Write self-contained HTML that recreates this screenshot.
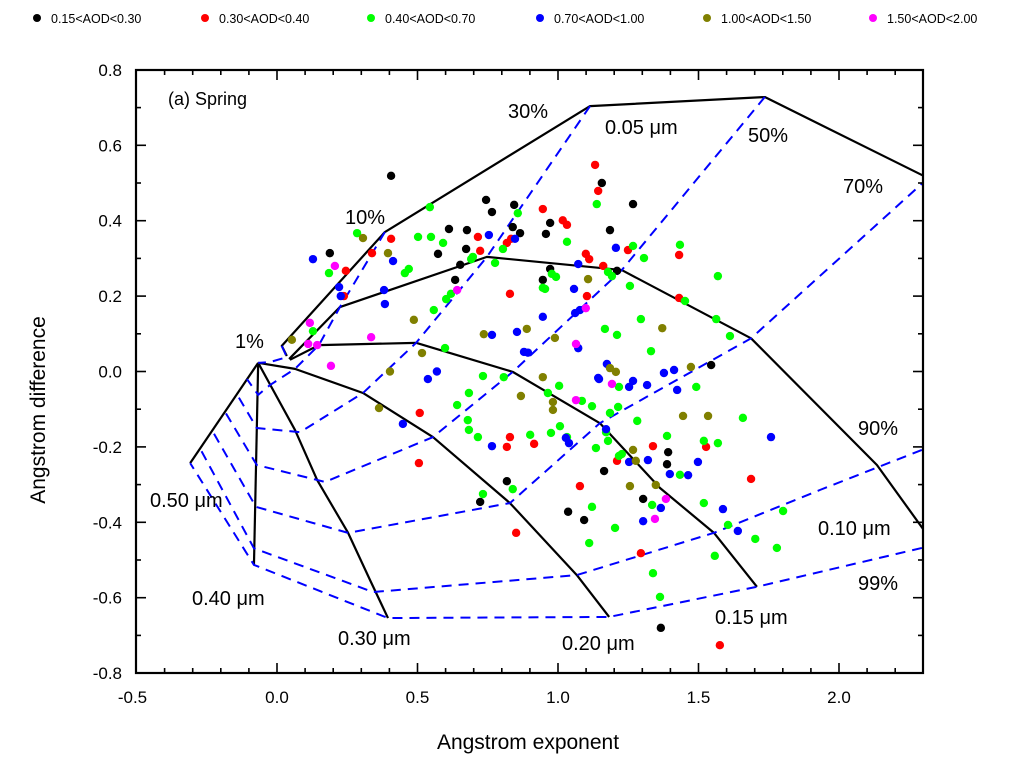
<!DOCTYPE html>
<html><head><meta charset="utf-8"><style>
html,body{margin:0;padding:0;background:#fff;}
svg{display:block;font-family:"Liberation Sans",Arial,sans-serif;}
</style></head><body>
<svg id="chart" width="1024" height="770" viewBox="0 0 1024 770" xmlns="http://www.w3.org/2000/svg">
<defs><clipPath id="plotclip"><rect x="136" y="70" width="787" height="603"/></clipPath></defs>
<g id="legend" font-size="12.5"></g>
<g id="grid" clip-path="url(#plotclip)"></g>
<g id="points"></g>
<g id="axes"></g>
<g id="labels" font-size="20"></g>
<text x="168" y="105" font-size="18">(a) Spring</text>
<text x="528" y="749" font-size="21" text-anchor="middle">Angstrom exponent</text>
<text transform="translate(45,410) rotate(-90)" font-size="21" text-anchor="middle">Angstrom difference</text>
</svg>
<script>
const categories = ["0.15<AOD<0.30","0.30<AOD<0.40","0.40<AOD<0.70","0.70<AOD<1.00","1.00<AOD<1.50","1.50<AOD<2.00"];
const colors = ["#000000","#ff0000","#00ff00","#0000ff","#808000","#ff00ff"];
const xTicks = [-0.5,0.0,0.5,1.0,1.5,2.0];
const xTickLabels = ["-0.5","0.0","0.5","1.0","1.5","2.0"];
const yTicks = [0.8,0.6,0.4,0.2,0.0,-0.2,-0.4,-0.6,-0.8];
const yTickLabels = ["0.8","0.6","0.4","0.2","0.0","-0.2","-0.4","-0.6","-0.8"];
const blackX = [0.406,0.188,0.744,0.765,0.839,0.844,0.612,0.676,0.865,0.573,0.673,0.652,0.634,0.972,0.957,0.972,0.946,1.156,1.267,1.185,1.210,1.545,1.392,1.388,1.164,1.303,1.366,0.818,0.723,1.036,1.093];
const blackY = [0.519,0.314,0.455,0.423,0.383,0.442,0.378,0.375,0.367,0.312,0.325,0.283,0.243,0.394,0.365,0.272,0.243,0.500,0.444,0.375,0.267,0.017,-0.214,-0.246,-0.264,-0.338,-0.680,-0.291,-0.346,-0.372,-0.394];
const redX = [1.132,1.143,0.406,0.338,0.245,0.238,0.715,0.818,0.723,0.833,0.829,0.946,1.017,1.032,1.099,1.111,1.103,1.249,1.431,1.161,1.431,0.508,0.505,0.829,0.818,0.915,1.078,0.851,1.338,1.210,1.527,1.687,1.295,1.576];
const redY = [0.548,0.479,0.352,0.314,0.267,0.200,0.357,0.341,0.320,0.352,0.206,0.431,0.401,0.389,0.312,0.298,0.200,0.322,0.309,0.280,0.195,-0.110,-0.243,-0.174,-0.200,-0.192,-0.304,-0.428,-0.198,-0.237,-0.200,-0.285,-0.482,-0.726];
const greenX = [0.544,0.285,0.185,0.502,0.548,0.591,0.469,0.455,0.857,0.804,0.697,0.691,0.776,1.032,0.978,0.993,0.946,0.954,1.138,0.619,0.602,0.558,0.128,0.598,0.733,0.807,0.683,0.964,1.004,1.085,1.121,0.641,1.267,1.306,1.178,1.192,1.434,1.569,1.256,1.452,1.295,1.563,1.612,1.167,1.210,1.331,1.217,1.492,1.214,0.679,0.683,0.715,0.901,0.975,1.007,1.032,1.135,0.733,0.839,1.121,1.111,1.185,1.282,1.171,1.178,1.217,1.227,1.388,1.658,1.519,1.569,1.434,1.335,1.203,1.519,1.605,1.702,1.779,1.801,1.558,1.338,1.363];
const greenY = [0.436,0.367,0.261,0.357,0.357,0.341,0.272,0.261,0.420,0.325,0.304,0.298,0.288,0.344,0.259,0.251,0.222,0.219,0.444,0.206,0.192,0.163,0.107,0.062,-0.012,-0.015,-0.057,-0.057,-0.038,-0.078,-0.092,-0.089,0.333,0.301,0.264,0.253,0.336,0.253,0.227,0.187,0.139,0.139,0.094,0.113,0.097,0.054,-0.041,-0.041,-0.094,-0.129,-0.155,-0.174,-0.168,-0.163,-0.145,-0.174,-0.203,-0.325,-0.312,-0.359,-0.455,-0.110,-0.131,-0.161,-0.184,-0.224,-0.219,-0.171,-0.123,-0.184,-0.190,-0.274,-0.354,-0.415,-0.349,-0.407,-0.444,-0.468,-0.370,-0.489,-0.535,-0.598];
const blueX = [0.128,0.413,0.221,0.227,0.381,0.384,0.754,0.847,1.072,1.057,0.946,1.061,1.078,0.854,0.765,0.879,0.893,1.072,0.569,0.537,1.143,1.206,1.174,1.146,1.267,1.253,1.317,1.377,1.413,1.424,0.448,0.765,1.028,1.039,1.171,1.253,1.320,1.398,1.463,1.498,1.758,1.366,1.303,1.587,1.640];
const blueY = [0.298,0.293,0.224,0.200,0.216,0.179,0.362,0.352,0.285,0.219,0.145,0.155,0.163,0.105,0.097,0.052,0.050,0.062,0.000,-0.020,-0.017,0.328,0.020,-0.020,-0.025,-0.041,-0.036,-0.004,0.004,-0.049,-0.139,-0.198,-0.176,-0.190,-0.153,-0.240,-0.235,-0.272,-0.275,-0.240,-0.174,-0.362,-0.397,-0.365,-0.423];
const oliveX = [0.306,0.395,0.053,0.487,0.516,0.402,0.736,0.889,0.989,1.107,0.946,0.868,0.982,0.982,0.363,1.371,1.185,1.206,1.473,1.445,1.534,1.267,1.277,1.256,1.348];
const oliveY = [0.354,0.314,0.084,0.137,0.049,0.000,0.099,0.113,0.089,0.245,-0.015,-0.065,-0.081,-0.102,-0.097,0.115,0.009,-0.001,0.012,-0.118,-0.118,-0.208,-0.237,-0.304,-0.301];
const magentaX = [0.206,0.117,0.111,0.143,0.335,0.192,0.641,1.099,1.064,1.064,1.192,1.384,1.345];
const magentaY = [0.280,0.129,0.073,0.070,0.091,0.015,0.216,0.168,0.073,-0.076,-0.033,-0.338,-0.391];
// solid lines: constant fine-mode radius
const radiusNames = ["0.05um","0.10um","0.15um","0.20um","0.30um","0.40um","0.50um"];
const radiusX = [[0.035,0.017,0.384,1.114,1.736,2.317],[0.043,0.224,0.747,1.227,1.687,2.135,2.430],[0.046,0.149,0.495,0.839,1.149,1.363,1.555,1.708],[-0.067,0.064,0.306,0.555,0.829,1.067,1.182],[-0.067,0.064,0.143,0.253,0.331,0.395],[-0.067,-0.082],[-0.067,-0.309]];
const radiusY = [[0.041,0.068,0.370,0.704,0.728,0.513],[0.033,0.171,0.304,0.269,0.088,-0.248,-0.553],[0.031,0.070,0.076,-0.001,-0.137,-0.309,-0.428,-0.571],[0.023,0.007,-0.057,-0.174,-0.349,-0.540,-0.651],[0.023,-0.155,-0.288,-0.428,-0.553,-0.654],[0.023,-0.513],[0.023,-0.243]];
// dashed lines: constant fine-mode fraction
const fractionNames = ["1pct","10pct","30pct","50pct","70pct","90pct","99pct"];
const fractionX = [[0.017,0.035,-0.025,-0.067],[0.384,0.224,0.149,0.064,-0.025,-0.067,-0.107],[1.114,0.747,0.495,0.306,0.082,-0.072,-0.143],[1.736,1.227,0.839,0.555,0.171,-0.072,-0.185],[2.317,1.687,1.149,0.829,0.253,-0.075,-0.232],[2.295,1.933,1.555,1.067,0.342,-0.082,-0.274],[2.295,1.708,1.182,0.395,-0.082,-0.309]];
const fractionY = [[0.068,0.038,0.025,0.023],[0.370,0.171,0.070,0.007,-0.036,-0.062,-0.020],[0.704,0.304,0.076,-0.057,-0.161,-0.150,-0.060],[0.728,0.269,-0.001,-0.174,-0.293,-0.248,-0.107],[0.513,0.088,-0.137,-0.349,-0.428,-0.359,-0.155],[-0.208,-0.314,-0.428,-0.540,-0.585,-0.469,-0.204],[-0.468,-0.571,-0.651,-0.654,-0.513,-0.243]];

const NS="http://www.w3.org/2000/svg";
function X(v){return 277+v*281;}
function Y(v){return 371.5-v*377;}
function mk(tag,attrs,parent){const e=document.createElementNS(NS,tag);for(const k in attrs)e.setAttribute(k,attrs[k]);parent.appendChild(e);return e;}

const lg=document.getElementById('legend');
const legX=[37,205,371,540,707,873];
categories.forEach((c,i)=>{
  const g=mk('g',{},lg);
  
  
  mk('circle',{cx:legX[i],cy:18,r:4,fill:colors[i]},g);
  const t=mk('text',{x:legX[i]+14,y:23},g);t.textContent=c;
});

const grid=document.getElementById('grid');
radiusX.forEach((xs,i)=>{
  const p=mk('polyline',{points:xs.map((x,j)=>X(x)+','+Y(radiusY[i][j])).join(' '),fill:'none',stroke:'#000','stroke-width':2.2,'stroke-linejoin':'round'},grid);
  
  
});
fractionX.forEach((xs,i)=>{
  const p=mk('polyline',{points:xs.map((x,j)=>X(x)+','+Y(fractionY[i][j])).join(' '),fill:'none',stroke:'#0000ff','stroke-width':2,'stroke-dasharray':'10 7'},grid);
  
  
});

const pts=document.getElementById('points');
const series=[[blackX,blackY],[redX,redY],[greenX,greenY],[blueX,blueY],[oliveX,oliveY],[magentaX,magentaY]];
series.forEach((s,i)=>{
  s[0].forEach((x,j)=>{
    const c=mk('circle',{cx:X(x),cy:Y(s[1][j]),r:4.2,fill:colors[i]},pts);
    
    
  });
});

const ax=document.getElementById('axes');
mk('rect',{x:136,y:70,width:787,height:603,fill:'none',stroke:'#000','stroke-width':2.2},ax);
for(let k=-5;k<=23;k++){const v=k/10;const px=X(v);if(px<137||px>922)continue;const major=(k%5===0);const L=major?10:5;
  mk('line',{x1:px,y1:673,x2:px,y2:673-L,stroke:'#000','stroke-width':1.6},ax);
  mk('line',{x1:px,y1:70,x2:px,y2:70+L,stroke:'#000','stroke-width':1.6},ax);}
for(let k=-8;k<=8;k++){const py=Y(k/10);const major=(k%2===0);const L=major?10:5;
  mk('line',{x1:136,y1:py,x2:136+L,y2:py,stroke:'#000','stroke-width':1.6},ax);
  mk('line',{x1:923,y1:py,x2:923-L,y2:py,stroke:'#000','stroke-width':1.6},ax);}
xTicks.forEach((v,i)=>{const t=mk('text',{x:X(v)+(v<0?-4:0),y:703,'font-size':17,'text-anchor':'middle'},ax);t.textContent=xTickLabels[i];
  });
yTicks.forEach((v,i)=>{const t=mk('text',{x:122,y:Y(v)+6,'font-size':17,'text-anchor':'end'},ax);t.textContent=yTickLabels[i];
  });

const lab=document.getElementById('labels');
const labTexts=["30%","0.05 \u03bcm","50%","70%","10%","1%","90%","0.10 \u03bcm","99%","0.15 \u03bcm","0.20 \u03bcm","0.30 \u03bcm","0.40 \u03bcm","0.50 \u03bcm"];
const labPos=[[508,118],[605,134],[748,142],[843,193],[345,224],[235,348],[858,435],[818,535],[858,590],[715,624],[562,650],[338,645],[192,605],[150,507]];
labTexts.forEach((s,i)=>{const t=mk('text',{x:labPos[i][0],y:labPos[i][1]},lab);t.textContent=s;
  });
</script>
</body></html>
